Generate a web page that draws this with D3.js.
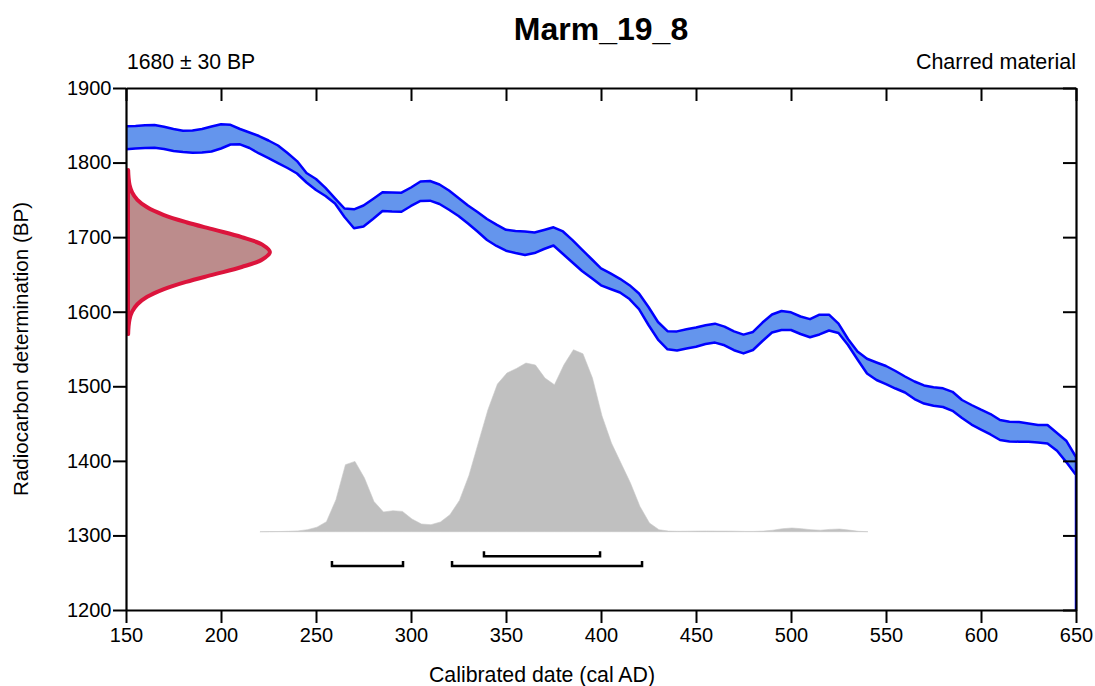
<!DOCTYPE html>
<html><head><meta charset="utf-8">
<script src="https://cdnjs.cloudflare.com/ajax/libs/d3/7.8.5/d3.min.js"></script>
<style>
body{margin:0;background:#fff}
svg{display:block}
text{font-family:"Liberation Sans",Arial,Helvetica,sans-serif;fill:#000}
</style></head><body>
<svg id="c" width="1095" height="686"></svg>
<script>
// ---------------- data ----------------
const title = "Marm_19_8";
const labelLeft = "1680 \u00b1 30 BP";
const labelRight = "Charred material";
const xTitle = "Calibrated date (cal AD)";
const yTitle = "Radiocarbon determination (BP)";

const xTicks = [150,200,250,300,350,400,450,500,550,600,650];
const yTicks = [1200,1300,1400,1500,1600,1700,1800,1900];

// calibration curve (cal AD) with upper / lower 1-sigma envelope (BP)
const curveYears = [150,155,160,165,170,175,180,185,190,195,200,205,210,215,220,225,230,235,240,245,
  250,255,260,265,270,275,280,285,290,295,300,305,310,315,320,325,330,335,340,345,
  350,355,360,365,370,375,380,385,390,395,400,405,410,415,420,425,430,435,440,445,
  450,455,460,465,470,475,480,485,490,495,500,505,510,515,520,525,530,535,540,545,
  550,555,560,565,570,575,580,585,590,595,600,605,610,615,620,625,630,635,640,645,650,650];
const curveUpper = [1848.6,1849,1850,1850.4,1848,1845,1842.7,1843,1845,1848.4,1851.5,1850.6,1845,1840.3,1835.6,1829.6,1822.9,1812.8,1802,1786,
  1778,1766,1752,1738.4,1737.3,1742.4,1751.2,1760.3,1760,1759.6,1766.6,1774.6,1775.3,1770.6,1762.5,1752.5,1742.4,1733.7,1724.3,1716.7,
  1709.8,1708.2,1707.6,1706.2,1709.6,1713.2,1707.6,1696,1683.4,1670.7,1658.2,1651.3,1644.1,1635.6,1624.4,1606.3,1586.2,1573.9,1573.6,1576.4,
  1578.8,1581.8,1584,1580,1573.7,1569.3,1572.9,1585.5,1596.3,1601,1599.2,1593.6,1590,1596,1596,1584,1563.4,1546.6,1536.9,1531.9,
  1527.2,1520.5,1513.1,1506.4,1501.1,1498.8,1497.3,1492.6,1481.6,1474.9,1468.6,1462.8,1454.8,1452.5,1452,1450.1,1448,1448,1437.3,1426.6,1405.1,1200];
const curveLower = [1817.8,1818.9,1819.5,1819.8,1818.2,1815.5,1814.2,1813.2,1813.5,1814.8,1818.9,1824.2,1824.5,1819.5,1812.2,1806.1,1799.4,1792.7,1785.3,1773.3,
  1763.2,1755.2,1745.1,1727,1711.9,1714.3,1724.3,1735,1734.4,1734.1,1741.8,1748.5,1748.9,1744.5,1736.8,1728.4,1718.3,1707.6,1696.2,1688.2,
  1681.8,1678.7,1676,1678.7,1684.1,1688.8,1677.4,1666,1654.6,1645.2,1635.4,1630.5,1625.8,1617,1603.6,1582.2,1562.7,1549.6,1548.1,1550.7,
  1553,1556.7,1558.6,1555,1548.4,1544.1,1548.7,1560.7,1572.1,1575.5,1575.5,1570.1,1565.7,1569.5,1574.8,1571.5,1555.3,1535.9,1517.1,1508.4,
  1503,1497,1491.7,1482.9,1476.9,1473.9,1472.2,1467.1,1457.5,1448.7,1442,1435.4,1428,1426,1425.7,1425.7,1424.6,1423.3,1413.5,1398,1381,1200];

// radiocarbon measurement distribution (BP, relative probability)
const measBP = [1570,1580,1590,1600,1610,1620,1630,1640,1650,1660,1670,1680,1690,1700,1710,1720,1730,1740,1750,1760,1770,1780,1790];
const measProb = [0.001,0.004,0.011,0.029,0.066,0.135,0.249,0.411,0.607,0.801,0.946,1.0,0.946,0.801,0.607,0.411,0.249,0.135,0.066,0.029,0.011,0.004,0.001];

// calibrated date distribution (cal AD, relative probability)
const calYears = [220.5,225.5,230.5,235.5,240.5,245.5,250.5,255.5,260.5,265.5,270.5,275.5,280.5,285.5,290.5,295.5,300.5,305.5,310.5,315.5,
  320.5,325.5,330.5,335.5,340.5,345.5,350.5,355.5,360.5,365.5,370.5,375.5,380.5,385.5,390.5,395.5,400.5,405.5,410.5,415.5,
  420.5,425.5,430.5,435.5,440.5,445.5,450.5,455.5,460.5,465.5,470.5,475.5,480.5,485.5,490.5,495.5,500.5,505.5,510.5,515.5,
  520.5,525.5,530.5,535.5,540.5];
const calProb = [0,0.1,0.2,0.4,0.8,2,4.5,10,32,67,70.3,53.7,30.3,19.7,21,20.3,12.7,7.7,7,9.7,
  17,31.3,56.3,89.3,122,147.7,158.7,163.3,168.7,166.7,153.7,147,167,182,178,153.7,116,88.7,68.7,48.7,
  25.3,8.7,2,0.6,0.4,0.5,0.6,0.7,0.6,0.6,0.5,0.3,0.3,0.6,1.5,3,3.7,3,2,1.5,
  2.3,2.7,1.6,0.4,0];

// highest posterior density ranges (cal AD)
const range1Sigma = [[338.4,399.5]];
const range2Sigma = [[258.4,295.8],[321.6,421.6]];

// ---------------- drawing ----------------
const svg = d3.select("#c");
const x = d3.scaleLinear().domain([150,650]).range([126,1076]);
const y = d3.scaleLinear().domain([1200,1900]).range([610,88]);

svg.append("defs").append("clipPath").attr("id","plotclip")
  .append("rect").attr("x",x(150)).attr("y",y(1900)).attr("width",x(650)-x(150)).attr("height",y(1200)-y(1900));

const plot = svg.append("g").attr("clip-path","url(#plotclip)");

// calibration curve band
const band = curveYears.map((yr,i)=>({yr, up:curveUpper[i], lo:curveLower[i]}));
plot.append("path")
  .attr("d", d3.area().x(d=>x(d.yr)).y0(d=>y(d.lo)).y1(d=>y(d.up))(band))
  .attr("fill","#6495ed").attr("stroke","#0000ff").attr("stroke-width",2.5).attr("stroke-linejoin","round");

// gray calibrated distribution
const calBase = y(1305), calTop = y(1549);
const gy = d3.scaleLinear().domain([0,d3.max(calProb)]).range([calBase, calTop]);
const cal = calYears.map((yr,i)=>({yr,p:calProb[i]}));
plot.append("path")
  .attr("d", d3.area().x(d=>x(d.yr)).y0(calBase).y1(d=>gy(d.p))(cal))
  .attr("fill","#c0c0c0").attr("stroke","#c8c8c8").attr("stroke-width",0.6);

// red measurement distribution
const rx = d3.scaleLinear().domain([0,1]).range([x(150), x(224.7)]);
const meas = measBP.map((bp,i)=>({bp,p:measProb[i]}));
svg.append("path")
  .attr("d", d3.area().curve(d3.curveCatmullRom).y(d=>y(d.bp)).x0(x(150)+2).x1(d=>rx(d.p)+2)(meas))
  .attr("fill","#bc8c8c").attr("stroke","#dc143c").attr("stroke-width",4).attr("stroke-linejoin","round");

// ranges
function drawRanges(ranges, bp){
  const yl = y(bp);
  ranges.forEach(r=>{
    svg.append("path")
      .attr("d", `M${x(r[0])},${yl-5}V${yl}H${x(r[1])}V${yl-5}`)
      .attr("fill","none").attr("stroke","#000").attr("stroke-width",2.5);
  });
}
drawRanges(range1Sigma, 1272);
drawRanges(range2Sigma, 1259);

// axes
function styleAxis(g){
  g.selectAll(".domain").attr("stroke","#000").attr("stroke-width",2.2);
  g.selectAll(".tick line").attr("stroke","#000").attr("stroke-width",2);
  g.selectAll("text").attr("font-size",20).attr("font-family","Liberation Sans, Arial, sans-serif").attr("fill","#000");
}
svg.append("g").attr("transform",`translate(0,${y(1200)})`)
  .call(d3.axisBottom(x).tickValues(xTicks).tickSize(13).tickSizeOuter(0).tickPadding(5).tickFormat(d3.format("d")))
  .call(styleAxis);
svg.append("g").attr("transform",`translate(0,${y(1900)})`)
  .call(d3.axisTop(x).tickValues(xTicks).tickSize(-13).tickSizeOuter(0).tickFormat(""))
  .call(styleAxis);
svg.append("g").attr("transform",`translate(${x(150)},0)`)
  .call(d3.axisLeft(y).tickValues(yTicks).tickSize(13).tickSizeOuter(0).tickPadding(1.5).tickFormat(d3.format("d")))
  .call(styleAxis);
svg.append("g").attr("transform",`translate(${x(650)},0)`)
  .call(d3.axisRight(y).tickValues(yTicks).tickSize(-13).tickSizeOuter(0).tickFormat(""))
  .call(styleAxis);

// texts
svg.append("text").attr("x",(x(150)+x(650))/2).attr("y",40).attr("text-anchor","middle")
  .attr("font-size",32).attr("font-weight","bold").text(title);
svg.append("text").attr("x",x(150)+1).attr("y",69).attr("font-size",21.2).text(labelLeft);
svg.append("text").attr("x",x(650)).attr("y",69).attr("text-anchor","end").attr("font-size",21.5).text(labelRight);
svg.append("text").attr("x",542).attr("y",682).attr("text-anchor","middle").attr("font-size",21.3).text(xTitle);
svg.append("text").attr("transform",`translate(27.5,${(y(1200)+y(1900))/2}) rotate(-90)`)
  .attr("text-anchor","middle").attr("font-size",20.6).text(yTitle);
</script>
</body></html>
